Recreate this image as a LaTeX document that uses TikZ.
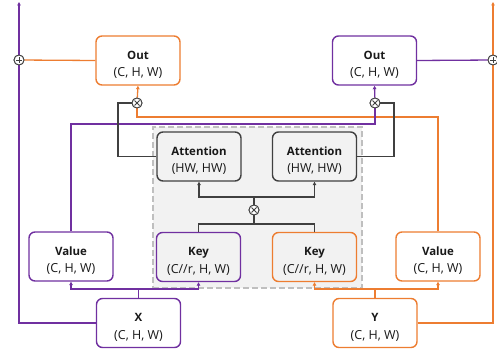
\documentclass[tikz,border=0pt]{standalone}
\usepackage{fontspec}
\setsansfont{Open Sans}
\usetikzlibrary{%
	positioning,
	arrows.meta
}
\definecolor{orng}{HTML}{ED7D31}
\definecolor{purp}{HTML}{7030A0}
\definecolor{dk}{HTML}{404040}
\newcommand{\lbl}[2]{{\fontsize{11.5}{14}\selectfont\bfseries\rule{0pt}{17bp}#1}\\#2}

\begin{document}
\begin{tikzpicture}[x=1bp,y=1bp,
		SBox/.style={draw,shape=rectangle,rounded corners=6bp,line width=1.4bp,fill=white,font=\sffamily\fontsize{12.5}{18}\selectfont,text=black!90,minimum width=84bp,minimum height=49bp,align=center,inner sep=1pt},
		op/.style={draw=dk,fill=white,shape=circle,line width=0.9bp,minimum size=10bp,inner sep=0pt},
		oplus/.style={op,path picture={\draw[dk,line width=0.8bp] ([xshift=-3bp]path picture bounding box.center) -- ++(6bp,0) ([yshift=-3bp]path picture bounding box.center) -- ++(0,6bp);}},
		otimes/.style={op,path picture={\draw[dk,line width=0.8bp] ([shift={(-2.5bp,-2.5bp)}]path picture bounding box.center) -- ++(5bp,5bp) ([shift={(-2.5bp,2.5bp)}]path picture bounding box.center) -- ++(5bp,-5bp);}},
		tip/.style={-{Triangle[length=3.5bp,width=3.5bp]}},
		wire/.style={line width=1.3bp}
	]
		\useasboundingbox (0,0) rectangle (497,349);

		\node(gray) [draw=black!25,fill=black!5,dash pattern=on 6bp off 3bp,line width=1.5bp,minimum width=209bp,minimum height=161bp] at (257.5,141.5) {};

		\node(OutL) [SBox,draw=orng] at (138,288.5) {\lbl{Out}{(C, H, W)}};
		\node(OutR) [SBox,draw=purp] at (374.5,288.5) {\lbl{Out}{(C, H, W)}};
		\node(AttL) [SBox,draw=dk,fill=black!5] at (199,192.5) {\lbl{Attention}{(HW, HW)}};
		\node(AttR) [SBox,draw=dk,fill=black!5] at (314.5,192.5) {\lbl{Attention}{(HW, HW)}};
		\node(KeyL) [SBox,draw=purp,fill=black!5] at (198.5,92) {\lbl{Key}{(C//r, H, W)}};
		\node(KeyR) [SBox,draw=orng,fill=black!5] at (314.5,92) {\lbl{Key}{(C//r, H, W)}};
		\node(ValL) [SBox,draw=purp] at (71,92.5) {\lbl{Value}{(C, H, W)}};
		\node(ValR) [SBox,draw=orng] at (438,92.5) {\lbl{Value}{(C, H, W)}};
		\node(X) [SBox,draw=purp] at (138.5,26) {\lbl{X}{(C, H, W)}};
		\node(Y) [SBox,draw=orng] at (375,26) {\lbl{Y}{(C, H, W)}};

		\coordinate (topL) at (19,347);
		\coordinate (topR) at (493,347);
		\coordinate (orngbar) at (137,232);
		\coordinate (purpbar) at (375,225);
		\coordinate (attLtop) at (118,246);
		\coordinate (attRtop) at (394,246);
		\coordinate (midup) at (254,152);
		\coordinate (middn) at (254,125);
		\coordinate (xsplit) at (138.5,60);
		\coordinate (ysplit) at (375,60);

		\node(plusL) [oplus] at (19,289) {};
		\node(plusR) [oplus] at (493,289) {};
		\node(timesL) [otimes] at (137,246) {};
		\node(timesR) [otimes] at (375,246) {};
		\node(timesM) [otimes] at (254,139) {};

		% orange branch
		\draw [wire,orng] (ValR.north) |- (orngbar) -- (timesL.south);
		\draw [wire,orng,tip] (timesL) -- (OutL.south);
		\draw [wire,orng] (OutL.west) -- (plusL);
		\draw [wire,orng,tip] (Y.east) -| (topR);
		\draw [wire,orng,tip] (Y.north) -- (ysplit) -| (KeyR.south);
		\draw [wire,orng,tip] (ysplit) -| (ValR.south);
		% purple branch
		\draw [wire,purp] (ValL.north) |- (purpbar) -- (timesR.south);
		\draw [wire,purp,tip] (timesR) -- (OutR.south);
		\draw [wire,purp] (OutR.east) -- (plusR);
		\draw [wire,purp,tip] (X.west) -| (topL);
		\draw [wire,purp,tip] (X.north) -- (xsplit) -| (ValL.south);
		\draw [wire,purp,tip] (xsplit) -| (KeyL.south);
		% attention
		\draw [wire,dk] (AttL.west) -| (attLtop) -- (timesL.west);
		\draw [wire,dk] (AttR.east) -| (attRtop) -- (timesR.east);
		\draw [wire,dk,tip] (timesM.north) -- (midup) -| (AttL.south);
		\draw [wire,dk,tip] (midup) -| (AttR.south);
		\draw [wire,dk] (KeyL.north) |- (middn) -| (KeyR.north);
		\draw [wire,dk] (middn) -- (timesM.south);

		\node[oplus] at (plusL) {};
		\node[oplus] at (plusR) {};
		\node[otimes] at (timesL) {};
		\node[otimes] at (timesR) {};
		\node[otimes] at (timesM) {};
	\end{tikzpicture}
\end{document}
